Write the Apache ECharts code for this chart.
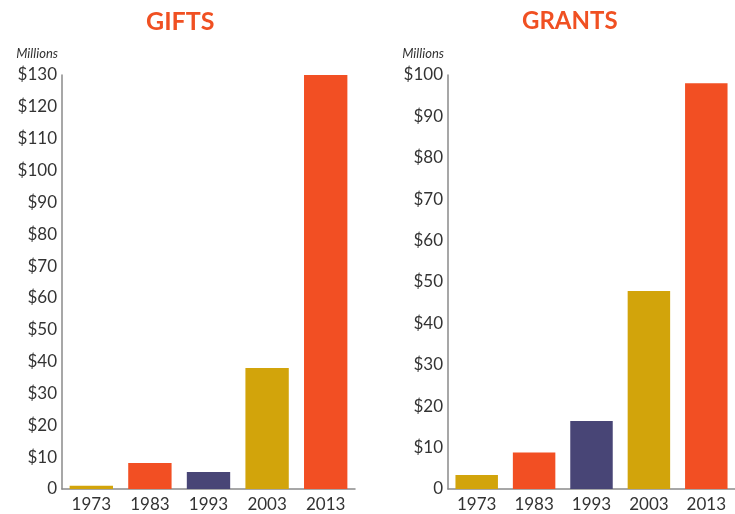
<!DOCTYPE html>
<html>
<head>
<meta charset="utf-8">
<script src="https://cdn.jsdelivr.net/npm/echarts@6/dist/echarts.min.js"></script>
<style>
  html, body { margin: 0; padding: 0; background: #fff; }
  #chart { width: 735px; height: 514px; }
</style>
</head>
<body>
<div id="chart"></div>
<script>
// data
const years = ['1973', '1983', '1993', '2003', '2013']
const gifts = [1, 8.2, 5.3, 38, 130]
const grants = [3.4, 8.8, 16.4, 47.8, 98]
const barColors = ['#d2a40b', '#f24f23', '#484576', '#d2a40b', '#f24f23']

const font = 'Lato, "DejaVu Sans", sans-serif'

const coloured = (vals) => vals.map((v, i) => ({ value: v, itemStyle: { color: barColors[i] } }))

const yAxisBase = (max, gridIndex) => ({
  type: 'value',
  gridIndex,
  min: 0,
  max,
  interval: 10,
  name: 'Millions',
  nameLocation: 'end',
  nameGap: 15,
  nameTextStyle: {
    fontFamily: font, fontStyle: 'italic', fontSize: 13, color: '#333',
    align: 'right', padding: [0, 4, 0, 0]
  },
  axisLine: { show: true, lineStyle: { color: '#8a8a8a', width: 1.5 } },
  axisTick: { show: false },
  splitLine: { show: false },
  axisLabel: {
    margin: 5, fontFamily: font, fontSize: 17, color: '#333',
    formatter: v => (v === 0 ? '0' : '$' + v)
  }
})

const xAxisBase = (gridIndex) => ({
  type: 'category',
  gridIndex,
  data: years,
  axisLine: { lineStyle: { color: '#8a8a8a', width: 1.5 } },
  axisTick: { show: false },
  axisLabel: { margin: 7, fontFamily: font, fontSize: 17, color: '#333' }
})

const chart = echarts.init(document.getElementById('chart'))
chart.setOption({
  animation: false,
  title: [
    { text: 'GIFTS', left: 141, top: 4,
      textStyle: { fontFamily: font, fontSize: 25, fontWeight: 'bold', color: '#f05022' } },
    { text: 'GRANTS', left: 517, top: 4,
      textStyle: { fontFamily: font, fontSize: 24, fontWeight: 'bold', color: '#f05022' } }
  ],
  grid: [
    { left: 62, top: 75, width: 293, height: 414 },
    { left: 448, top: 75, width: 293, height: 414 }
  ],
  xAxis: [xAxisBase(0), xAxisBase(1)],
  yAxis: [yAxisBase(130, 0), yAxisBase(100, 1)],
  series: [
    { type: 'bar', xAxisIndex: 0, yAxisIndex: 0, barCategoryGap: '26%', data: coloured(gifts) },
    { type: 'bar', xAxisIndex: 1, yAxisIndex: 1, barCategoryGap: '26%', data: coloured(grants) }
  ]
})
</script>
</body>
</html>
